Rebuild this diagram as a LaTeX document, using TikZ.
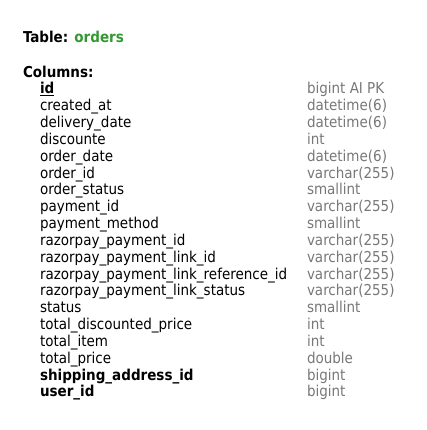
\documentclass[tikz,border=0pt]{standalone}
\usepackage{fontspec}
\setmainfont{DejaVu Sans Condensed}
\definecolor{tgreen}{HTML}{339933}
\definecolor{tgray}{HTML}{787878}
\begin{document}
\begin{tikzpicture}[x=1pt,y=-1pt,
  every node/.style={inner sep=0pt,outer sep=0pt,anchor=base west,font=\fontsize{15}{18}\selectfont},
  colname/.style={text=black},
  coltype/.style={text=tgray},
  hdr/.style={font=\fontsize{15}{18}\selectfont\bfseries}]
\useasboundingbox[fill=white] (0,0) rectangle (427,430);
\node[hdr] (title) at (23,43) {Table: \textcolor{tgreen}{orders}};
\node[hdr] (cols) at (23,78) {Columns:};
\def\pitch{16.83}
\foreach \n/\t [count=\i from 0] in {
  {\textbf{\underline{id}}}/{bigint AI PK},
  created\_at/datetime(6),
  delivery\_date/datetime(6),
  discounte/int,
  order\_date/datetime(6),
  order\_id/varchar(255),
  order\_status/smallint,
  payment\_id/varchar(255),
  payment\_method/smallint,
  razorpay\_payment\_id/varchar(255),
  razorpay\_payment\_link\_id/varchar(255),
  razorpay\_payment\_link\_reference\_id/varchar(255),
  razorpay\_payment\_link\_status/varchar(255),
  status/smallint,
  total\_discounted\_price/int,
  total\_item/int,
  total\_price/double,
  {\textbf{shipping\_address\_id}}/bigint,
  {\textbf{user\_id}}/bigint}
{
  \node[colname] (n\i) at (40,94+\i*\pitch) {\n};
  \node[coltype] (t\i) at (307,94+\i*\pitch) {\t};
}
\end{tikzpicture}
\end{document}
